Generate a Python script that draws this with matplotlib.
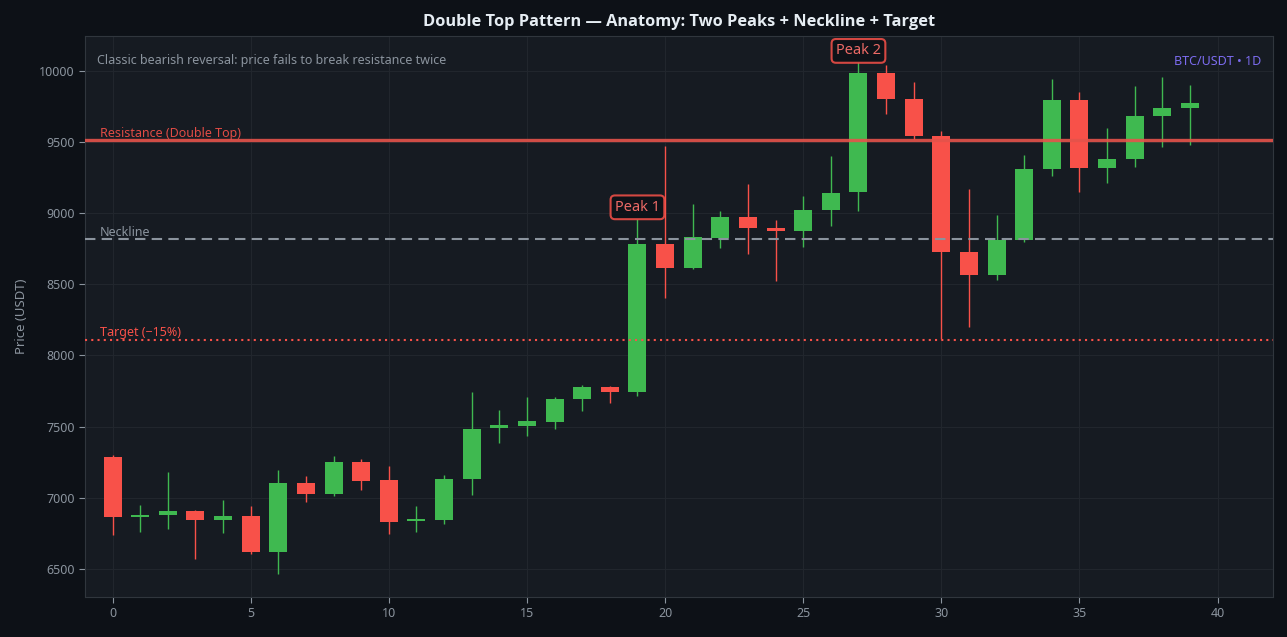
import numpy as np
import matplotlib
matplotlib.use('Agg')
import matplotlib.pyplot as plt

plt.rcParams['font.family'] = ['Noto Sans', 'DejaVu Sans']

# OHLC values (40 daily candles)
opens = [7287, 6861, 6875, 6908, 6840, 6873, 6620, 7104, 7027, 7252,
         7126, 6833, 6840, 7128, 7486, 7507, 7535, 7690, 7779, 7739,
         8784, 8617, 8821, 8974, 8897, 8871, 9018, 9145, 9986, 9803,
         9543, 8728, 8561, 8810, 9306, 9796, 9313, 9377, 9679, 9735]
highs = [7301, 6950, 7182, 6910, 6985, 6938, 7196, 7154, 7294, 7273,
         7224, 6943, 7161, 7744, 7618, 7709, 7704, 7793, 7786, 8960,
         9468, 9065, 9016, 9206, 8953, 9121, 9398, 10059, 10037, 9918,
         9578, 9171, 8983, 9405, 9944, 9848, 9595, 9890, 9953, 9902]
lows = [6739, 6760, 6781, 6570, 6753, 6605, 6465, 6971, 7013, 7055,
        6746, 6760, 6816, 7020, 7386, 7430, 7479, 7606, 7662, 7711,
        8400, 8610, 8751, 8709, 8519, 8758, 8906, 9016, 9698, 9520,
        8114, 8198, 8526, 8793, 9257, 9150, 9213, 9320, 9461, 9475]
closes = [6861, 6880, 6908, 6840, 6873, 6620, 7104, 7027, 7252, 7118,
          6826, 6844, 7132, 7484, 7512, 7540, 7695, 7779, 7739, 8784,
          8617, 8833, 8974, 8892, 8871, 9023, 9143, 9986, 9798, 9538,
          8723, 8561, 8812, 9311, 9796, 9313, 9382, 9684, 9740, 9775]

resistance = 9510
neckline = 8815
target = 8110
peaks = [19, 27]
peak_labels = ['Peak 1', 'Peak 2']

GREEN = '#3fb950'
RED = '#f85149'
BG = '#0d1117'
PANEL = '#161b22'
MUTED = '#8b949e'

x = np.arange(len(opens))
o = np.array(opens)
c = np.array(closes)
up = c >= o
colors = np.where(up, GREEN, RED)

fig = plt.figure(figsize=(12.87, 6.37), dpi=100, facecolor=BG)
ax = fig.add_axes([0.066, 0.063, 0.923, 0.881])
ax.set_facecolor(PANEL)

# wicks then bodies
ax.vlines(x, lows, highs, colors=colors, linewidth=1.0, zorder=2)
body_bottom = np.minimum(o, c)
body_height = np.maximum(np.abs(c - o), 18)
ax.bar(x, body_height, bottom=body_bottom, width=0.65, color=colors,
       edgecolor='none', zorder=3)

# pattern levels
ax.axhline(resistance, color='#e5534b', alpha=0.9, linewidth=2.4, zorder=4)
ax.axhline(neckline, color=MUTED, linestyle=(0, (5, 3)), linewidth=1.5, zorder=4)
ax.axhline(target, color=RED, linestyle=(0, (1, 2)), linewidth=1.5, zorder=4)

ax.text(-0.47, resistance + 5, 'Resistance (Double Top)', color=RED, alpha=0.9,
        fontsize=9, va='bottom', ha='left')
ax.text(-0.47, neckline + 5, 'Neckline', color=MUTED, fontsize=9,
        va='bottom', ha='left')
ax.text(-0.47, target + 5, 'Target (\u221215%)', color=RED, fontsize=9,
        va='bottom', ha='left')

for i, lab in zip(peaks, peak_labels):
    ax.text(i, highs[i] + 80, lab, color='#ec6a66', fontsize=10.5, ha='center',
            va='center', zorder=6,
            bbox=dict(boxstyle='round,pad=0.3', facecolor=BG, edgecolor=RED,
                      alpha=0.85, linewidth=1.5))

ax.text(0.01, 0.968, 'Classic bearish reversal: price fails to break resistance twice',
        transform=ax.transAxes, color=MUTED, fontsize=9, va='top', ha='left')
ax.text(0.99, 0.965, 'BTC/USDT \u2022 1D', transform=ax.transAxes, color='#7c6cf0',
        fontsize=9, va='top', ha='right')

ax.set_title('Double Top Pattern \u2014 Anatomy: Two Peaks + Neckline + Target',
             color='#e6edf3', fontsize=11.8, fontweight='bold', pad=7,
             family=['Open Sans', 'DejaVu Sans'])
ax.set_ylabel('Price (USDT)', color=MUTED, fontsize=9.5, labelpad=8)

ax.set_xlim(-1, 42)
ax.set_ylim(6303, 10246)
ax.set_xticks(range(0, 41, 5))
ax.set_yticks(range(6500, 10001, 500))
ax.tick_params(colors=MUTED, labelsize=9, length=4)
ax.grid(True, color='#21262d', linewidth=0.8, zorder=0)
ax.set_axisbelow(True)
for s in ax.spines.values():
    s.set_color('#30363d')

fig.savefig('out.png', dpi=100, facecolor=BG)
